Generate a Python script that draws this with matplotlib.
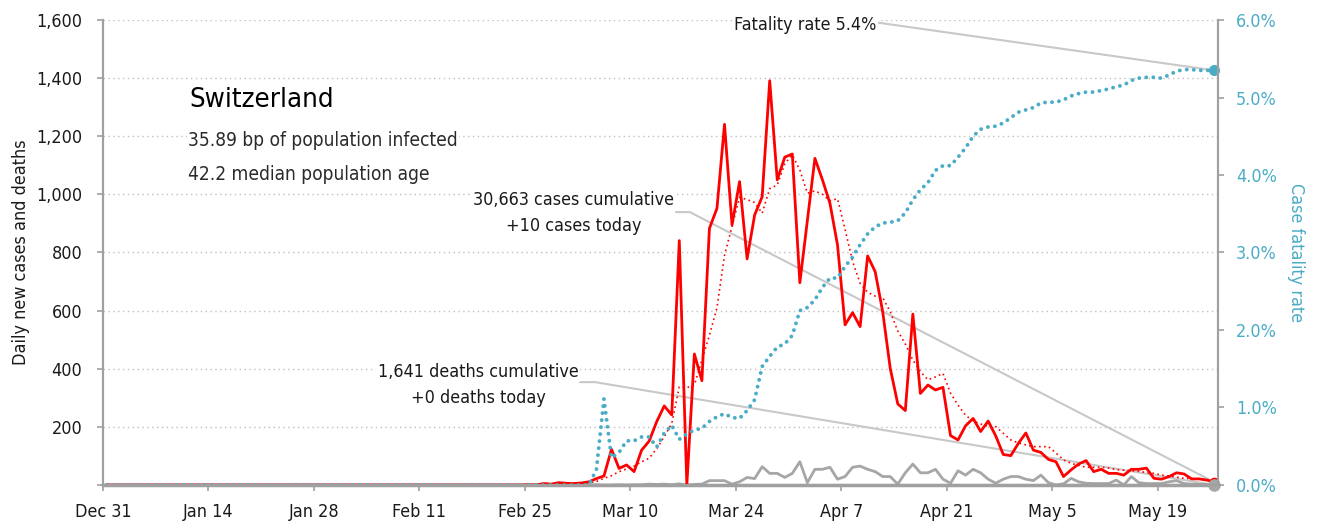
import numpy as np
import matplotlib
matplotlib.use('Agg')
import matplotlib.pyplot as plt
import matplotlib.font_manager as fm

# pick a narrow font if one is installed
font_names = set(f.name for f in fm.fontManager.ttflist)
dejavu_cond = any(f.name == 'DejaVu Sans' and 'condensed' in str(f.stretch)
                  for f in fm.fontManager.ttflist)
if 'Liberation Sans Narrow' in font_names:
    plt.rcParams['font.family'] = ['Liberation Sans Narrow', 'DejaVu Sans']
    scale = 1.0
elif dejavu_cond:
    plt.rcParams['font.family'] = ['DejaVu Sans']
    plt.rcParams['font.stretch'] = 'condensed'
    scale = 0.92
else:
    plt.rcParams['font.family'] = ['Liberation Sans', 'DejaVu Sans']
    scale = 0.9

# data (day 0 = Dec 31)
n_days = 148
cases_start = 56
cases_vals = [1, 0, 5, 3, 8, 6, 5, 7, 11, 22,                 # 56-65
              31, 123, 57, 69, 46, 120, 151, 218, 272, 241,   # 66-75
              841, 0, 451, 359, 883, 952, 1241, 895, 1044, 778,   # 76-85
              929, 992, 1391, 1050, 1128, 1139, 696, 910, 1124, 1050,   # 86-95
              969, 826, 551, 593, 545, 788, 734, 596, 401, 279,   # 96-105
              256, 588, 315, 344, 327, 336, 170, 155, 204, 229,   # 106-115
              184, 220, 169, 105, 101, 143, 179, 120, 112, 88,    # 116-125
              80, 29, 52, 72, 84, 46, 54, 40, 40, 34,             # 126-135
              54, 54, 58, 23, 20, 29, 42, 38, 21, 21,             # 136-145
              17, 10]                                             # 146-147

avg_vals = [0.2, 0.3, 1, 1.5, 2.5, 3.5, 4.5, 5, 8, 12,
            23, 32, 46, 55, 65, 80, 92, 125, 166, 212,
            338, 335, 344, 430, 515, 610, 790, 890, 990, 982,
            972, 935, 1020, 1032, 1105, 1136, 1084, 1004, 1012, 1000,
            978, 985, 880, 770, 694, 663, 650, 645, 596, 530,
            485, 430, 390, 362, 372, 384, 316, 275, 240, 220,
            210, 201, 201, 178, 155, 145, 138, 132, 132, 132,
            110, 86, 75, 67, 61, 61, 61, 58, 53, 51,
            49, 47, 43, 40, 34, 31, 27, 23, 22, 20,
            18, 17]

deaths_start = 65
deaths_vals = [1, 0, 0, 1, 0, 1, 1, 3, 2, 3,        # 65-74
               1, 4, 0, 2, 3, 15, 15, 15, 3, 11,    # 75-84
               26, 22, 63, 40, 40, 26, 40, 80, 8, 54,   # 85-94
               54, 61, 20, 29, 61, 65, 54, 46, 29, 29,  # 95-104
               3, 42, 72, 42, 42, 54, 20, 6, 49, 34,    # 105-114
               54, 42, 20, 6, 20, 29, 29, 20, 15, 34,   # 115-124
               8, 0, 4, 23, 11, 6, 5, 5, 5, 17,         # 125-134
               0, 29, 8, 5, 5, 5, 11, 15, 5, 3,         # 135-144
               2, 2, 0]                                 # 145-147

cfr_start = 64
cfr_vals = [0, 0.2, 1.11, 0.35, 0.42, 0.57, 0.57, 0.62, 0.62, 0.49,
            0.67, 0.77, 0.59, 0.66, 0.71, 0.73, 0.82, 0.88, 0.92, 0.87,
            0.86, 0.96, 1.10, 1.53, 1.66, 1.78, 1.82, 1.93, 2.25, 2.29,
            2.39, 2.55, 2.67, 2.67, 2.82, 2.94, 3.10, 3.24, 3.33, 3.38,
            3.39, 3.41, 3.51, 3.68, 3.81, 3.90, 4.06, 4.12, 4.12, 4.23,
            4.35, 4.50, 4.59, 4.62, 4.63, 4.67, 4.74, 4.81, 4.84, 4.87,
            4.93, 4.94, 4.94, 4.97, 5.02, 5.05, 5.07, 5.07, 5.09, 5.11,
            5.14, 5.16, 5.22, 5.25, 5.26, 5.26, 5.25, 5.29, 5.34, 5.36,
            5.36, 5.35, 5.35, 5.35]

total_cases = 30663
total_deaths = 1641

tick_days = [0, 14, 28, 42, 56, 70, 84, 98, 112, 126, 140]
tick_labels = ['Dec 31', 'Jan 14', 'Jan 28', 'Feb 11', 'Feb 25', 'Mar 10',
               'Mar 24', 'Apr 7', 'Apr 21', 'May 5', 'May 19']

country = 'Switzerland'
info_1 = '35.89 bp of population infected'
info_2 = '42.2 median population age'

cases = np.array([0] * cases_start + cases_vals, dtype=float)
avg = np.array([0] * cases_start + avg_vals, dtype=float)
deaths = np.array([0] * deaths_start + deaths_vals, dtype=float)
cfr = np.array([0] * cfr_start + cfr_vals, dtype=float) / 100
x = np.arange(n_days) + 0.5

RED = '#FF0000'
TEAL = '#4BACC6'
GREY = '#A6A6A6'
AXC = '#A0A0A0'
FS = 14 * scale
TXT = '#1A1A1A'

fig = plt.figure(figsize=(13.2, 5.25), dpi=100)
ax = fig.add_axes([0.078, 0.0762, 0.8447, 0.8857])
ax2 = ax.twinx()

# connectors (behind lines)
ax.plot([76.1, 77.9, x[-1]], [939, 939, cases[-1]], color='#C8C8C8', lw=1.5, zorder=1)
ax.plot([63.3, 65.3, x[-1]], [354, 354, deaths[-1]], color='#C8C8C8', lw=1.5, zorder=1)
ax.plot([102.3, x[-1]], [1593, cfr[-1] * 1600 / 0.06], color='#C8C8C8', lw=1.5, zorder=1,
        clip_on=False)

ax.plot(x, deaths, color=GREY, lw=2, zorder=2)
ax.plot(x, avg, color=RED, lw=1.2, linestyle=(0, (1, 2)), zorder=3)
ax.plot(x, cases, color=RED, lw=2, zorder=4)
ax.plot(x[-1], cases[-1], 'o', color=RED, ms=6, zorder=5, clip_on=False)
ax.plot(x[-1], deaths[-1], 'o', color=GREY, ms=8, zorder=5, clip_on=False)

ax2.plot(x, cfr, color=TEAL, lw=2.8, linestyle=(0, (0.01, 1.8)), dash_capstyle='round')
ax2.plot(x[-1], cfr[-1], 'o', color=TEAL, ms=7, clip_on=False)

ax.set_xlim(0, n_days)
ax.set_ylim(0, 1600)
ax2.set_ylim(0, 0.06)

ax.set_xticks(tick_days)
ax.set_xticklabels(tick_labels)
yt = np.arange(0, 1601, 200)
ax.set_yticks(yt)
ax.set_yticklabels([''] + ['{:,}'.format(v) for v in yt[1:]])
rt = np.arange(0, 0.061, 0.01)
ax2.set_yticks(rt)
ax2.set_yticklabels(['{:.1f}%'.format(v * 100) for v in rt])

ax.yaxis.grid(True, linestyle=(0, (1, 2.5)), color='#BFBFBF', lw=1)
ax.set_axisbelow(True)

for a in (ax, ax2):
    a.spines['top'].set_visible(False)
    for s in ('left', 'right', 'bottom'):
        a.spines[s].set_color(AXC)
        a.spines[s].set_linewidth(1.5)
ax.spines['bottom'].set_linewidth(2.5)

ax.tick_params(axis='y', length=4, width=1.2, color=AXC, labelsize=FS, pad=11, labelcolor=TXT)
ax.tick_params(axis='x', length=4, width=1.2, color=AXC, labelsize=FS, pad=9, labelcolor=TXT)
ax2.tick_params(axis='y', length=4, width=1.2, color=AXC, labelsize=FS, pad=9, labelcolor=TEAL)

ax.set_ylabel('Daily new cases and deaths', fontsize=FS, color=TXT, labelpad=4)
ax2.set_ylabel('Case fatality rate', fontsize=FS, color=TEAL, rotation=270, labelpad=20)

box = dict(facecolor='white', edgecolor='none', pad=1)
ax.text(11.5, 1325, country, fontsize=21.5 * scale, color='black', va='center', ha='left', bbox=box)
ax.text(11.3, 1187, info_1, fontsize=FS * 1.06, color='#2A2A2A', va='center', ha='left', bbox=box)
ax.text(11.3, 1067, info_2, fontsize=FS * 1.06, color='#2A2A2A', va='center', ha='left', bbox=box)

ax.text(62.5, 981, '{:,} cases cumulative'.format(total_cases), fontsize=FS, ha='center',
        va='center', color=TXT, bbox=box)
ax.text(62.5, 891, '+{:.0f} cases today'.format(cases[-1]), fontsize=FS, ha='center',
        va='center', color=TXT, bbox=box)
ax.text(49.8, 389, '{:,} deaths cumulative'.format(total_deaths), fontsize=FS, ha='center',
        va='center', color=TXT, bbox=box)
ax.text(49.8, 299, '+{:.0f} deaths today'.format(deaths[-1]), fontsize=FS, ha='center',
        va='center', color=TXT, bbox=box)
ax.text(93.2, 1582, 'Fatality rate {:.1f}%'.format(100 * total_deaths / total_cases),
        fontsize=FS, ha='center', va='center', color=TXT, bbox=box)

fig.savefig('out.png', dpi=100)
